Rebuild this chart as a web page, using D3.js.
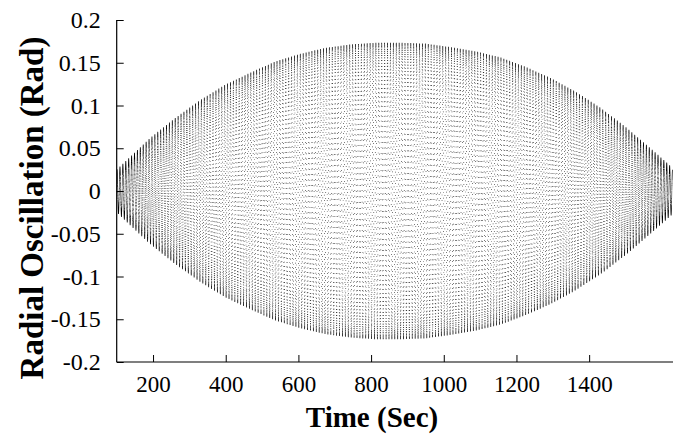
<!DOCTYPE html>
<html>
<head>
<meta charset="utf-8">
<script src="https://cdn.jsdelivr.net/npm/d3@7/dist/d3.min.js"></script>
<style>
  html, body { margin: 0; padding: 0; background: #fff; }
  svg { display: block; }
  svg text { font-family: 'Liberation Serif', 'Times New Roman', serif; fill: #000; }
</style>
</head>
<body>
<svg id="chart" width="673" height="439"></svg>
<script>
// Envelope of the radial oscillation: time (s) and peak amplitude (rad)
const envTime = [100, 137, 192, 260, 329, 398, 467, 535, 604, 673, 742, 811, 879,
                 948, 1017, 1086, 1154, 1223, 1292, 1361, 1430, 1498, 1567, 1628];
const envAmp  = [0.025, 0.040, 0.062, 0.085, 0.106, 0.124, 0.138, 0.151, 0.160, 0.167, 0.171, 0.173, 0.173,
                 0.172, 0.168, 0.163, 0.156, 0.145, 0.132, 0.116, 0.097, 0.075, 0.050, 0.027];

// Oscillation carrier: period (s) and sampling step (s) of the recorded signal
const carrierPeriod = 8.003;
const sampleStep = 0.05;

// Axis ticks
const xTicks = [200, 400, 600, 800, 1000, 1200, 1400];
const yTicks = [-0.2, -0.15, -0.1, -0.05, 0, 0.05, 0.1, 0.15, 0.2];
const yTickLabels = ["-0.2", "-0.15", "-0.1", "-0.05", "0", "0.05", "0.1", "0.15", "0.2"];

const svg = d3.select("#chart");
const plotLeft = 116.7, plotRight = 672, plotTop = 20, plotBottom = 362;

const x = d3.scaleLinear().domain([100, 1628]).range([plotLeft, plotRight]);
const y = d3.scaleLinear().domain([-0.2, 0.2]).range([plotBottom, plotTop]);
const amp = d3.scaleLinear().domain(envTime).range(envAmp).clamp(true);

// Recorded samples of the oscillation
const samples = d3.range(envTime[0], envTime[envTime.length - 1] + 1e-9, sampleStep)
  .map(t => ({ t, v: amp(t) * Math.cos(2 * Math.PI * (t - envTime[0]) / carrierPeriod) }));

svg.append("clipPath").attr("id", "plotClip")
  .append("rect").attr("x", plotLeft).attr("y", plotTop)
  .attr("width", plotRight - plotLeft + 1).attr("height", plotBottom - plotTop);

// Each sample drawn as a small dot
const dot = 0.7;
svg.append("path")
  .attr("clip-path", "url(#plotClip)")
  .attr("fill", "#000")
  .attr("d", samples.map(d => `M${x(d.t).toFixed(2)},${(y(d.v) - dot / 2).toFixed(2)}h${dot}v${dot}h${-dot}Z`).join(""));

const font = "'Liberation Serif', 'Times New Roman', serif";

// Bottom axis with inward ticks
const xAxis = svg.append("g").attr("transform", `translate(0,${plotBottom})`)
  .attr("font-family", font)
  .call(d3.axisBottom(x).tickValues(xTicks).tickSize(-7).tickPadding(14).tickFormat(d3.format("d")));
xAxis.select(".domain").attr("d", `M${plotLeft},0H${plotRight + 1}`).attr("stroke", "#000").attr("stroke-width", 1.2);
xAxis.selectAll(".tick line").attr("stroke", "#000");
xAxis.selectAll("text").attr("font-size", 23);

// Left axis with inward ticks
const yAxis = svg.append("g").attr("transform", `translate(${plotLeft},0)`)
  .attr("font-family", font)
  .call(d3.axisLeft(y).tickValues(yTicks).tickSize(-7).tickPadding(16)
    .tickFormat((d, i) => yTickLabels[i]));
yAxis.select(".domain").attr("d", `M0,${plotTop}V${plotBottom}`).attr("stroke", "#000").attr("stroke-width", 1.2);
yAxis.selectAll(".tick line").attr("stroke", "#000");
yAxis.selectAll("text").attr("font-size", 24);

// Axis titles
svg.append("text")
  .attr("x", 372).attr("y", 427)
  .attr("text-anchor", "middle")
  .attr("font-weight", "bold").attr("font-size", 29)
  .text("Time (Sec)");

svg.append("text")
  .attr("transform", "translate(43,208) rotate(-90)")
  .attr("text-anchor", "middle")
  .attr("font-weight", "bold").attr("font-size", 33)
  .text("Radial Oscillation (Rad)");
</script>
</body>
</html>
